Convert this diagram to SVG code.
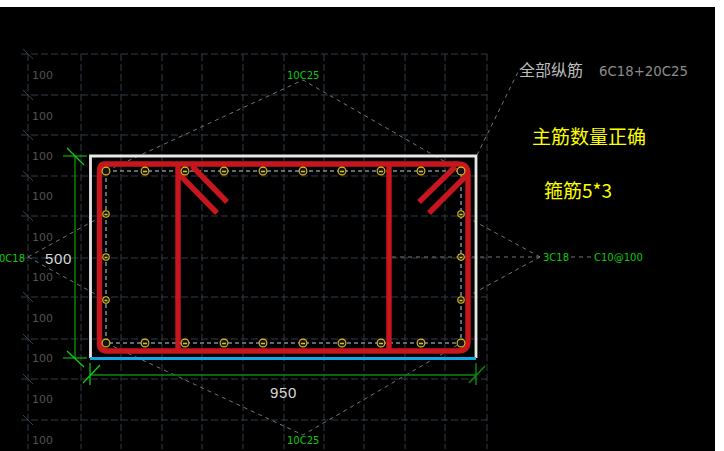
<svg xmlns="http://www.w3.org/2000/svg" width="724" height="451" viewBox="0 0 724 451">
<style>
.grid{stroke:#333d49;stroke-width:1;stroke-dasharray:7 3;fill:none}
.tick{stroke:#36404c;stroke-width:1;fill:none}
.lead{stroke:#777;stroke-width:1;stroke-dasharray:4 4;fill:none}
.tie{stroke:#b8d4ec;stroke-width:1;stroke-dasharray:4 3;fill:none}
.dim{stroke:#0a8a0a;stroke-width:1.4;fill:none}
.dimh{stroke:#12d012;stroke-width:1.2;fill:none}
.red{stroke:#c8161e;stroke-width:5.4;fill:none}
.bar{stroke:#e2c020;stroke-width:1.1;fill:#141414}
.barm{stroke:#d8c030;stroke-width:1.6;fill:none}
.g100{font:11px "DejaVu Sans",sans-serif;fill:#525252}
.lab{font:10px "DejaVu Sans",sans-serif;fill:#0fc80f}
.wh{font:15px "Liberation Sans",sans-serif;fill:#d8d8d8;letter-spacing:.6px}
.ye{font-family:"Noto Sans CJK SC","Liberation Sans",sans-serif;font-size:19px;fill:#ffff00}
.cn{font-family:"Noto Sans CJK SC",sans-serif;font-size:16px;fill:#bdbdbd}
.gr{font:13.300px "DejaVu Sans",sans-serif;fill:#8c8c8c}
</style>
<rect width="724" height="451" fill="#000"/>
<rect width="724" height="7" fill="#fff"/>
<rect x="715" width="9" height="451" fill="#fff"/>
<g id="grid">
<path class="grid" d="M21 54H487M21 95H487M21 135H487M21 176H487M21 216H487M21 258H487M21 297H487M21 339H487M21 379H487M21 420H487"/>
<path class="grid" d="M28 54V449M81 54V449M121 54V449M162 54V449M202 54V449M243 54V449M284 54V449M324 54V449M364 54V449M405 54V449M445 54V449M487 54V449"/>
<path class="tick" d="M23 49L33 59M23 90L33 100M23 130L33 140M23 171L33 181M23 211L33 221M23 292L33 302M23 334L33 344M23 374L33 384M23 415L33 425"/>
<g class="g100">
<text x="32" y="79">100</text><text x="32" y="120">100</text><text x="32" y="160">100</text><text x="32" y="200">100</text><text x="32" y="241">100</text><text x="32" y="281">100</text><text x="32" y="322">100</text><text x="32" y="362">100</text><text x="32" y="403">100</text><text x="32" y="444">100</text>
</g>
</g>
<g id="leaders">
<path class="lead" d="M106 171L303 80L461 171M106 343L303 435L461 343M477 155L519 70M28 257L106 214M28 257L106 300M540 257L461 214M540 257L461 300M540 257H389"/>
<path class="lead" d="M571 257H592"/>
</g>
<g id="section">
<path class="tie" d="M106 171H461V343H106Z"/>
<path d="M90.500 358V156H476V358" fill="none" stroke="#e8e8e8" stroke-width="2.800"/>
<path d="M90 358.500H476" fill="none" stroke="#12a8e8" stroke-width="3"/>
<path class="red" d="M104 164H458Q468 164 468 174V341Q468 351 458 351H107Q99.500 351 99.500 343V172Q99.500 164 104 164Z"/>
<path class="red" d="M178 164V351M389 164V351M178 173L217 213M192 166L227 202M455 167L419 202M469 173L429 213"/>
</g>
<g id="bars">
<g class="bar">
<circle cx="106" cy="171" r="3.900"/><circle cx="145" cy="171" r="3.900"/><circle cx="185" cy="171" r="3.900"/><circle cx="224" cy="171" r="3.900"/><circle cx="263" cy="171" r="3.900"/><circle cx="303" cy="171" r="3.900"/><circle cx="342" cy="171" r="3.900"/><circle cx="381" cy="171" r="3.900"/><circle cx="421" cy="171" r="3.900"/><circle cx="461" cy="171" r="3.900"/>
<circle cx="106" cy="343" r="3.900"/><circle cx="145" cy="343" r="3.900"/><circle cx="185" cy="343" r="3.900"/><circle cx="224" cy="343" r="3.900"/><circle cx="263" cy="343" r="3.900"/><circle cx="303" cy="343" r="3.900"/><circle cx="342" cy="343" r="3.900"/><circle cx="381" cy="343" r="3.900"/><circle cx="421" cy="343" r="3.900"/><circle cx="461" cy="343" r="3.900"/>
<circle cx="106" cy="214" r="3.200"/><circle cx="106" cy="257" r="3.200"/><circle cx="106" cy="300" r="3.200"/><circle cx="461" cy="214" r="3.200"/><circle cx="461" cy="257" r="3.200"/><circle cx="461" cy="300" r="3.200"/>
</g>
<path class="barm" d="M143 171.500h4M183 171.500h4M222 171.500h4M261 171.500h4M301 171.500h4M340 171.500h4M379 171.500h4M419 171.500h4M143 343.500h4M183 343.500h4M222 343.500h4M261 343.500h4M301 343.500h4M340 343.500h4M379 343.500h4M419 343.500h4M104.500 214.500h3M104.500 257.500h3M104.500 300.500h3M459.500 214.500h3M459.500 257.500h3M459.500 300.500h3"/>
</g>
<g id="dimensions">
<path class="dim" d="M75 156V358M90 375H476M476 363V385M469 383L485 366"/>
<path class="dimh" d="M63 156H87M67 148L84 165M63 358H87M67 351L84 367M90 363V385M83 383L100 365"/>
<text class="wh" x="45" y="264">500</text>
<text class="wh" x="270" y="398">950</text>
</g>
<g id="labels">
<text class="lab" x="287" y="79">10C25</text>
<text class="lab" x="287" y="444">10C25</text>
<text class="lab" x="-1" y="262">0C18</text>
<text class="lab" x="543" y="261">3C18</text>
<text class="lab" x="594" y="261">C10@100</text>
<text class="cn" x="519" y="76">全部纵筋</text>
<text class="gr" x="599" y="76">6C18+20C25</text>
<text class="ye" x="532" y="144">主筋数量正确</text>
<text class="ye" x="544" y="198">箍筋5*3</text>
</g>
</svg>
